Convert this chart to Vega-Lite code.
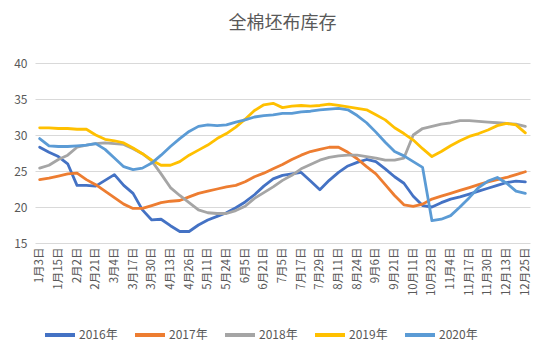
{
  "$schema": "https://vega.github.io/schema/vega-lite/v6.json",
  "width": 495,
  "height": 180,
  "autosize": "none",
  "padding": {"left": 35, "top": 63, "right": 20, "bottom": 116},
  "background": "white",
  "title": {"text": "全棉坯布库存", "fontSize": 18, "font": "Noto Sans CJK SC", "fontWeight": "normal", "color": "#595959", "anchor": "middle", "offset": 24},
  "config": {"view": {"stroke": null}, "font": "Noto Sans CJK SC"},
  "datasets": {
    "wide": [
      {"idx":0,"a":28.3,"b":23.8,"c":25.4,"d":31.0,"e":29.5},
      {"idx":1,"a":27.6,"b":24.0,"c":25.8,"d":31.0,"e":28.5},
      {"idx":2,"a":27.0,"b":24.3,"c":26.6,"d":30.9,"e":28.4},
      {"idx":3,"a":26.0,"b":24.6,"c":27.2,"d":30.9,"e":28.4},
      {"idx":4,"a":23.0,"b":24.7,"c":28.3,"d":30.8,"e":28.5},
      {"idx":5,"a":23.0,"b":23.8,"c":28.6,"d":30.8,"e":28.6},
      {"idx":6,"a":22.9,"b":23.1,"c":28.8,"d":30.0,"e":28.8},
      {"idx":7,"a":23.7,"b":22.2,"c":28.9,"d":29.4,"e":28.0},
      {"idx":8,"a":24.5,"b":21.3,"c":28.8,"d":29.2,"e":26.8},
      {"idx":9,"a":23.0,"b":20.4,"c":28.7,"d":28.9,"e":25.6},
      {"idx":10,"a":21.9,"b":19.8,"c":28.1,"d":28.2,"e":25.2},
      {"idx":11,"a":19.6,"b":19.8,"c":27.4,"d":27.4,"e":25.4},
      {"idx":12,"a":18.2,"b":20.2,"c":26.4,"d":26.5,"e":26.1},
      {"idx":13,"a":18.3,"b":20.6,"c":24.6,"d":25.8,"e":27.2},
      {"idx":14,"a":17.4,"b":20.8,"c":22.7,"d":25.8,"e":28.4},
      {"idx":15,"a":16.6,"b":20.9,"c":21.6,"d":26.3,"e":29.5},
      {"idx":16,"a":16.6,"b":21.4,"c":20.6,"d":27.2,"e":30.5},
      {"idx":17,"a":17.5,"b":21.9,"c":19.6,"d":27.9,"e":31.2},
      {"idx":18,"a":18.2,"b":22.2,"c":19.2,"d":28.6,"e":31.4},
      {"idx":19,"a":18.7,"b":22.5,"c":19.1,"d":29.5,"e":31.3},
      {"idx":20,"a":19.2,"b":22.8,"c":19.1,"d":30.2,"e":31.4},
      {"idx":21,"a":19.9,"b":23.0,"c":19.5,"d":31.1,"e":31.8},
      {"idx":22,"a":20.7,"b":23.5,"c":20.1,"d":32.2,"e":32.1},
      {"idx":23,"a":21.7,"b":24.2,"c":21.2,"d":33.4,"e":32.5},
      {"idx":24,"a":22.9,"b":24.7,"c":22.0,"d":34.2,"e":32.7},
      {"idx":25,"a":23.9,"b":25.3,"c":22.8,"d":34.4,"e":32.8},
      {"idx":26,"a":24.4,"b":25.9,"c":23.7,"d":33.8,"e":33.0},
      {"idx":27,"a":24.6,"b":26.6,"c":24.4,"d":34.0,"e":33.0},
      {"idx":28,"a":24.8,"b":27.2,"c":25.3,"d":34.1,"e":33.2},
      {"idx":29,"a":23.6,"b":27.7,"c":25.9,"d":34.0,"e":33.3},
      {"idx":30,"a":22.4,"b":28.0,"c":26.5,"d":34.1,"e":33.5},
      {"idx":31,"a":23.7,"b":28.3,"c":26.9,"d":34.3,"e":33.6},
      {"idx":32,"a":24.8,"b":28.3,"c":27.1,"d":34.1,"e":33.7},
      {"idx":33,"a":25.7,"b":27.6,"c":27.2,"d":33.9,"e":33.5},
      {"idx":34,"a":26.2,"b":26.7,"c":27.2,"d":33.7,"e":32.7},
      {"idx":35,"a":26.6,"b":25.6,"c":27.0,"d":33.5,"e":31.7},
      {"idx":36,"a":26.3,"b":24.6,"c":26.8,"d":32.8,"e":30.4},
      {"idx":37,"a":25.3,"b":23.1,"c":26.5,"d":32.1,"e":29.0},
      {"idx":38,"a":24.2,"b":21.6,"c":26.5,"d":31.0,"e":27.7},
      {"idx":39,"a":23.3,"b":20.3,"c":26.8,"d":30.2,"e":27.1},
      {"idx":40,"a":21.5,"b":20.1,"c":30.0,"d":29.3,"e":26.3},
      {"idx":41,"a":20.2,"b":20.4,"c":30.9,"d":28.1,"e":25.5},
      {"idx":42,"a":20.0,"b":21.1,"c":31.2,"d":27.0,"e":18.1},
      {"idx":43,"a":20.6,"b":21.5,"c":31.5,"d":27.7,"e":18.3},
      {"idx":44,"a":21.1,"b":21.9,"c":31.7,"d":28.5,"e":18.8},
      {"idx":45,"a":21.4,"b":22.3,"c":32.0,"d":29.2,"e":20.0},
      {"idx":46,"a":21.8,"b":22.7,"c":32.0,"d":29.8,"e":21.3},
      {"idx":47,"a":22.2,"b":23.1,"c":31.9,"d":30.2,"e":22.7},
      {"idx":48,"a":22.6,"b":23.5,"c":31.8,"d":30.7,"e":23.6},
      {"idx":49,"a":23.0,"b":23.8,"c":31.7,"d":31.3,"e":24.1},
      {"idx":50,"a":23.4,"b":24.1,"c":31.6,"d":31.6,"e":23.3},
      {"idx":51,"a":23.6,"b":24.5,"c":31.5,"d":31.4,"e":22.2},
      {"idx":52,"a":23.5,"b":24.9,"c":31.2,"d":30.3,"e":21.9}
    ]
  },
  "data": {"name": "wide"},
  "transform": [
    {"fold": ["a", "b", "c", "d", "e"], "as": ["key", "value"]},
    {"lookup": "key", "from": {"data": {"values": [
      {"key": "a", "series": "2016年"},
      {"key": "b", "series": "2017年"},
      {"key": "c", "series": "2018年"},
      {"key": "d", "series": "2019年"},
      {"key": "e", "series": "2020年"}
    ]}, "key": "key", "fields": ["series"]}}
  ],
  "mark": {"type": "line", "strokeWidth": 2.8, "strokeCap": "round", "strokeJoin": "round"},
  "encoding": {
    "x": {
      "field": "idx", "type": "quantitative",
      "scale": {"domain": [-0.5, 52.5], "nice": false, "zero": false},
      "axis": {
        "title": null, "grid": false, "domain": false, "ticks": false,
        "values": [0,2,4,6,8,10,12,14,16,18,20,22,24,26,28,30,32,34,36,38,40,42,44,46,48,50,52],
        "labelExpr": "['1月3日','1月15日','2月2日','2月21日','3月4日','3月17日','3月30日','4月13日','4月26日','5月11日','5月24日','6月5日','6月21日','7月5日','7月17日','7月29日','8月11日','8月24日','9月6日','9月21日','10月11日','10月23日','11月4日','11月17日','11月30日','12月13日','12月25日'][datum.value/2]",
        "labelAngle": 270, "labelAlign": "right", "labelBaseline": "middle",
        "labelFontSize": 11.5, "labelColor": "#595959", "labelPadding": 4,
        "labelOverlap": false, "labelFlush": false, "labelFont": "Noto Sans CJK SC"
      }
    },
    "y": {
      "field": "value", "type": "quantitative",
      "scale": {"domain": [15, 40], "nice": false, "zero": false},
      "axis": {
        "title": null, "domain": false, "ticks": false,
        "values": [15, 20, 25, 30, 35, 40],
        "gridColor": "#d9d9d9", "gridWidth": 1,
        "labelFontSize": 12, "labelColor": "#595959", "labelPadding": 8,
        "labelFont": "Noto Sans CJK SC"
      }
    },
    "color": {
      "field": "series", "type": "nominal",
      "scale": {
        "domain": ["2016年", "2017年", "2018年", "2019年", "2020年"],
        "range": ["#4472C4", "#ED7D31", "#A5A5A5", "#FFC000", "#5B9BD5"]
      },
      "legend": {
        "title": null, "orient": "none", "legendX": 8, "legendY": 255,
        "direction": "horizontal", "symbolType": "stroke", "symbolSize": 900,
        "symbolStrokeWidth": 4, "labelFontSize": 12, "labelColor": "#595959",
        "labelOffset": 2, "columnPadding": 9, "labelFont": "Noto Sans CJK SC"
      }
    }
  }
}
